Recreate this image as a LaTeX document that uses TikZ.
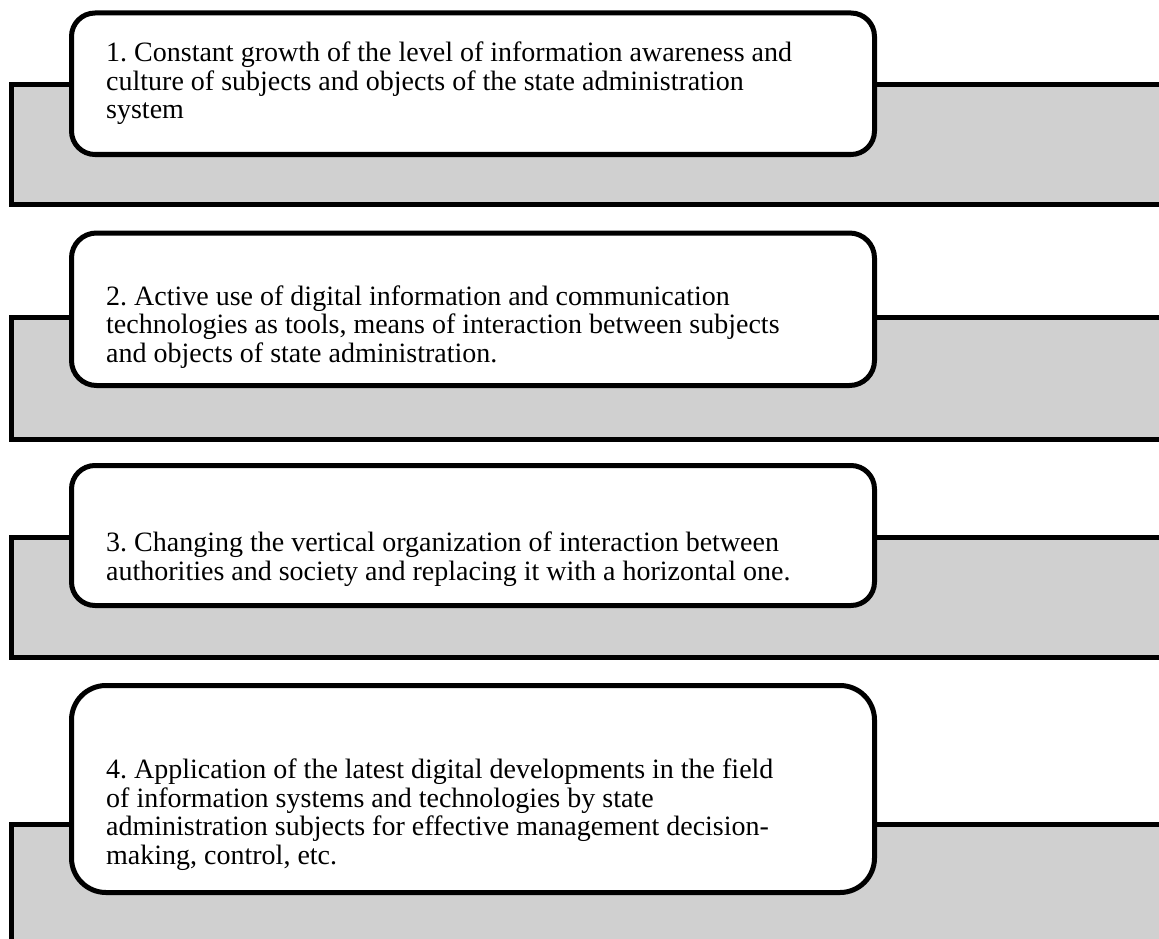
\documentclass[tikz,border=0pt]{standalone}
\usepackage{fontspec}
\setmainfont{Liberation Serif}
\frenchspacing
\definecolor{boxgray}{RGB}{208,208,208}
\begin{document}
\begin{tikzpicture}[x=1pt,y=-1pt,
  graybox/.style={draw=black,line width=5pt,fill=boxgray},
  whitebox/.style={draw=black,line width=5pt,fill=white},
  txt/.style={anchor=base west,inner sep=0pt,align=left,font=\fontsize{28}{28.5}\selectfont\frenchspacing}]
\useasboundingbox (0,0) rectangle (1159,939);
\clip (0,0) rectangle (1159,939);
% block 1
\draw[graybox] (11.5,84.5) rectangle (1175,204.5);
\draw[whitebox,rounded corners=23.5pt] (71.5,13) rectangle (874.5,154.5);
\node[txt] (t1) at (106,119) {1. Constant growth of the level of information awareness and\\culture of subjects and objects of the state administration\\system};
% block 2
\draw[graybox] (11.5,317.5) rectangle (1175,439.5);
\draw[whitebox,rounded corners=25pt] (71.5,233) rectangle (874.5,385.5);
\node[txt] (t2) at (106,362) {2. Active use of digital information and communication\\technologies as tools, means of interaction between subjects\\and objects of state administration.};
% block 3
\draw[graybox] (11.5,537.5) rectangle (1175,657.5);
\draw[whitebox,rounded corners=23.5pt] (71.5,465.5) rectangle (874.5,605.5);
\node[txt] (t3) at (106,580) {3. Changing the vertical organization of interaction between\\authorities and society and replacing it with a horizontal one.};
% block 4
\draw[graybox] (11.5,824.5) rectangle (1175,960);
\draw[whitebox,rounded corners=34.5pt] (71.5,685.5) rectangle (874.5,892.5);
\node[txt] (t4) at (106,864) {4. Application of the latest digital developments in the field\\of information systems and technologies by state\\administration subjects for effective management decision-\\making, control, etc.};
\end{tikzpicture}
\end{document}
